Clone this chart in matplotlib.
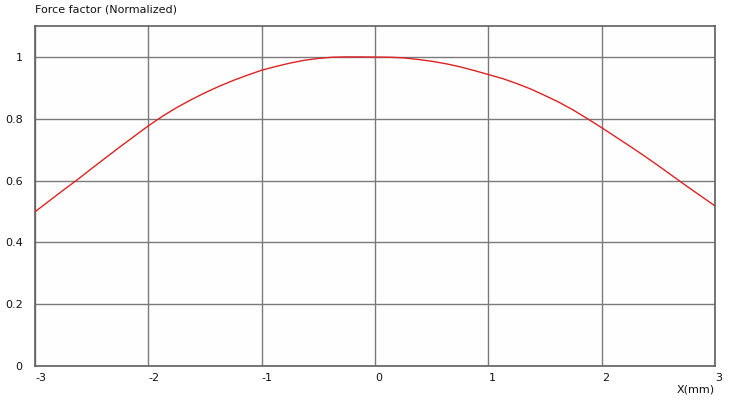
import matplotlib
matplotlib.use("Agg")
import matplotlib.pyplot as plt

x_mm = [-3.0, -2.875, -2.75, -2.625, -2.5, -2.375, -2.25, -2.125, -2.0,
        -1.875, -1.75, -1.625, -1.5, -1.375, -1.25, -1.125, -1.0,
        -0.875, -0.75, -0.625, -0.5, -0.375, -0.25, -0.125, 0.0,
        0.125, 0.25, 0.375, 0.5, 0.625, 0.75, 0.875, 1.0,
        1.125, 1.25, 1.375, 1.5, 1.625, 1.75, 1.875, 2.0,
        2.125, 2.25, 2.375, 2.5, 2.625, 2.75, 2.875, 3.0]
force = [0.499, 0.534, 0.569, 0.603, 0.639, 0.674, 0.709, 0.743, 0.777,
         0.808, 0.836, 0.861, 0.884, 0.905, 0.924, 0.941, 0.957,
         0.969, 0.980, 0.989, 0.995, 0.999, 1.0, 1.0, 0.9995,
         0.999, 0.997, 0.992, 0.986, 0.978, 0.968, 0.956, 0.943,
         0.930, 0.914, 0.896, 0.875, 0.853, 0.828, 0.800, 0.771,
         0.741, 0.711, 0.680, 0.648, 0.615, 0.582, 0.550, 0.518]
x_ticks = [-3, -2, -1, 0, 1, 2, 3]
y_ticks = [0, 0.2, 0.4, 0.6, 0.8, 1]
y_labels = ["0", "0.2", "0.4", "0.6", "0.8", "1"]

plt.rcParams['font.family'] = ['Verdana', 'DejaVu Sans']
fig = plt.figure(figsize=(7.29, 4.0), dpi=100)
fig.patch.set_facecolor("white")
ax = fig.add_axes([35/729, 34/400, 680/729, 340/400])
ax.set_facecolor("#fefefe")

ax.plot(x_mm, force, color="#dd2222", lw=1.0, zorder=3)
ax.set_xlim(-3, 3)
ax.set_ylim(0, 1.1)

ax.set_xticks(x_ticks)
ax.set_xticklabels([str(t) for t in x_ticks], ha="left", fontsize=8, color="#111111")
ax.set_yticks(y_ticks)
ax.set_yticklabels(y_labels, fontsize=8, color="#111111")
ax.tick_params(axis="both", length=0)
ax.tick_params(axis="x", pad=5)
ax.tick_params(axis="y", pad=9)

ax.grid(True, color="#7a7a7a", lw=1.0, zorder=1)
for s in ax.spines.values():
    s.set_color("#606060")
    s.set_linewidth(1.2)

fig.text(35/729, 1 - 9/400, "Force factor (Normalized)", ha="left", va="center",
         fontsize=8, color="#111111")
fig.text(715/729, 1 - 390/400, "X(mm)", ha="right", va="center",
         fontsize=8, color="#111111")

fig.savefig("out.png", dpi=100, facecolor="white")
